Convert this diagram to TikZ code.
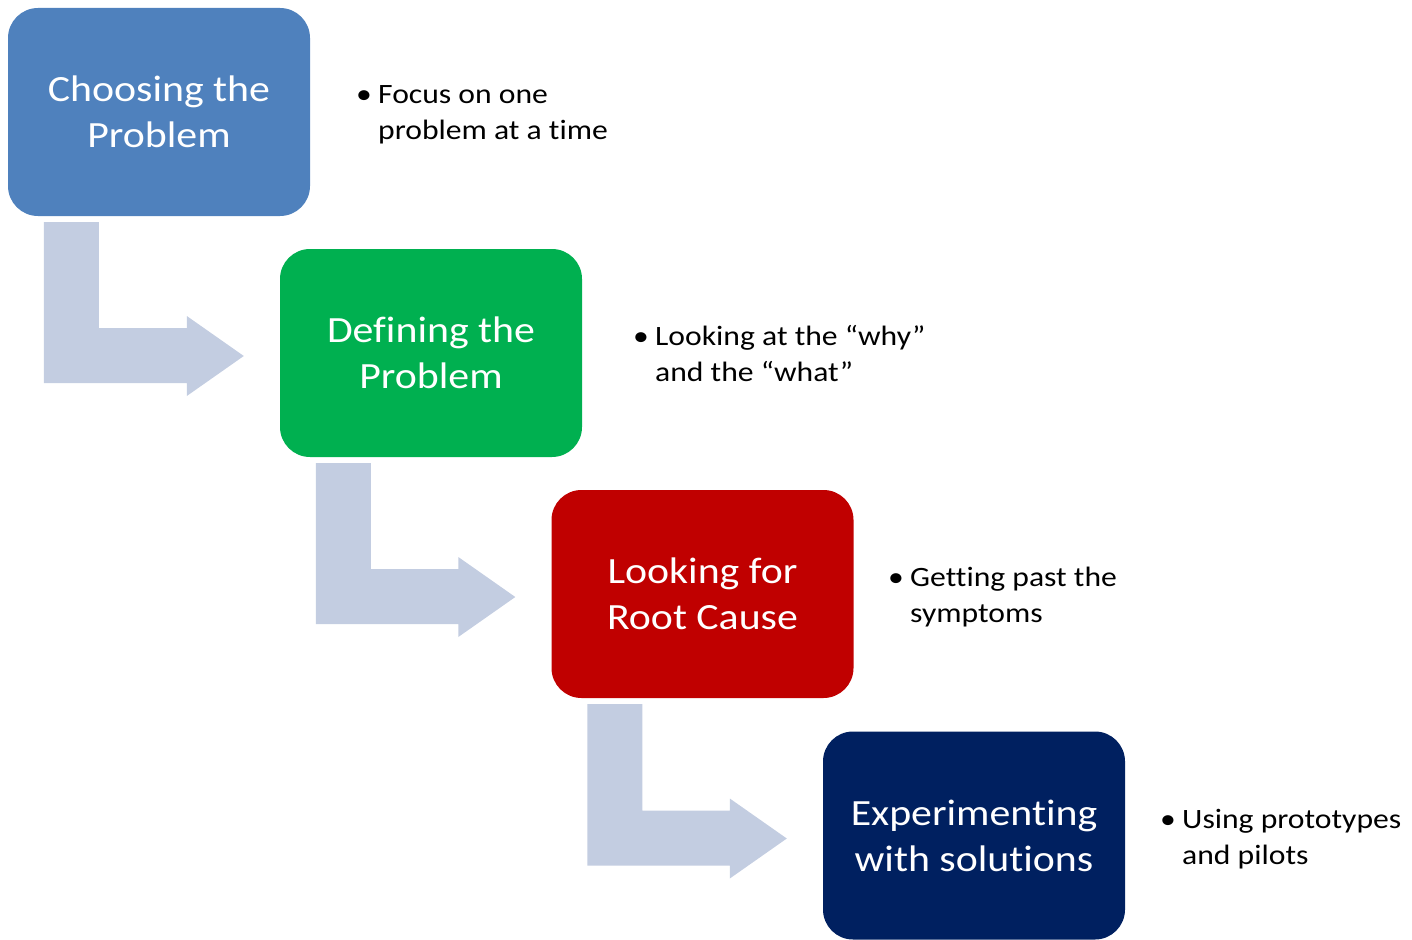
\documentclass[tikz,border=0pt]{standalone}
\usepackage{fontspec}
\setmainfont{Carlito}[FakeStretch=1.13, RawFeature=-liga]
\usetikzlibrary{calc}
\definecolor{cblue}{HTML}{4F81BD}
\definecolor{cgreen}{HTML}{00B050}
\definecolor{cred}{HTML}{C00000}
\definecolor{cnavy}{HTML}{002060}
\definecolor{carrow}{HTML}{C3CDE1}
\tikzset{
  stepbox/.style={rectangle, rounded corners=30pt, minimum width=302pt, minimum height=208pt,
    inner sep=0pt, text=white, align=center, font=\fontsize{37}{46}\selectfont},
  bullettext/.style={anchor=base west, inner sep=0pt, font=\fontsize{28}{36}\selectfont},
  arrowfill/.style={fill=carrow}
}
\newcommand\bentarr[2]{%
  \fill[arrowfill] let \p1=(#1.south west), \p2=(#2.west) in
    (\x1+36,\y1-6) -- (\x1+91,\y1-6) -- (\x1+91,\y2+25) -- (\x2-93,\y2+25) --
    (\x2-93,\y2+37) -- (\x2-36,\y2-3) -- (\x2-93,\y2-43) -- (\x2-93,\y2-30) --
    (\x1+36,\y2-30) -- cycle;}
\newcommand\bul[2]{\begin{tabular}[t]{@{}l@{}l@{}}\makebox[22pt][l]{•}&#1\\&#2\end{tabular}}
\begin{document}
\begin{tikzpicture}[x=1pt,y=-1pt]
\useasboundingbox (0,0) rectangle (1412,939);
\node[stepbox, fill=cblue] (b1) at (159,112) {Choosing the\\Problem};
\node[stepbox, fill=cgreen] (b2) at (431,353) {Defining the\\Problem};
\node[stepbox, fill=cred] (b3) at (702.5,594) {Looking for\\Root Cause};
\node[stepbox, fill=cnavy] (b4) at (974,835.5) {Experimenting\\with solutions};
\bentarr{b1}{b2}
\bentarr{b2}{b3}
\bentarr{b3}{b4}
\node[bullettext] (t1) at (356,103) {\bul{Focus on one}{problem at a time}};
\node[bullettext] (t2) at (633,345) {\bul{Looking at the “why”}{and the “what”}};
\node[bullettext] (t3) at (888,586) {\bul{Getting past the}{symptoms}};
\node[bullettext] (t4) at (1160,828) {\bul{Using prototypes}{and pilots}};
\end{tikzpicture}
\end{document}
